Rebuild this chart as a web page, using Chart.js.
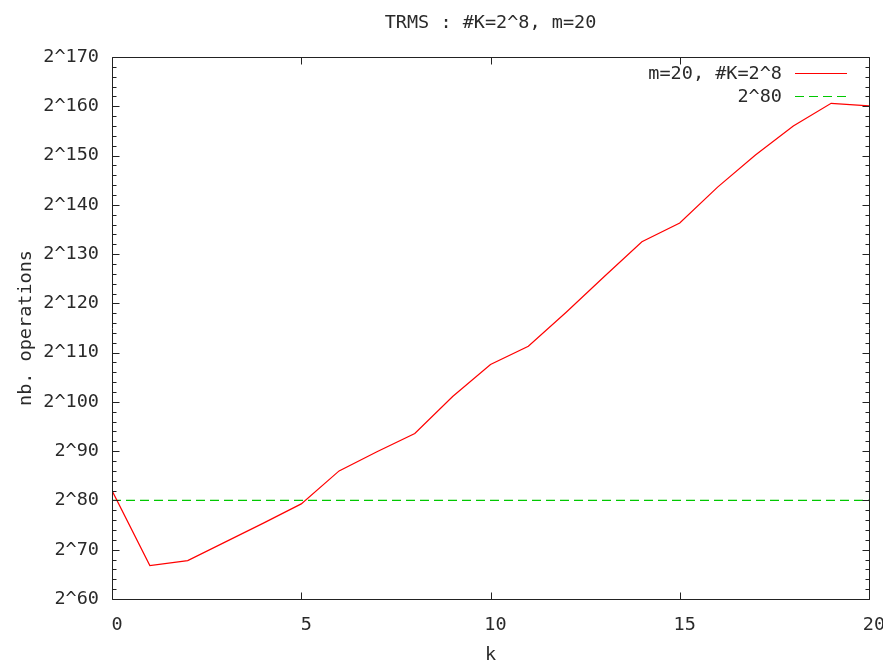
<!DOCTYPE html>
<html>
<head>
<meta charset="utf-8">
<style>
html,body{margin:0;padding:0;background:#fff;}
#wrap{width:883px;height:662px;}
canvas{display:block;}
</style>
<script src="https://cdn.jsdelivr.net/npm/chart.js@4/dist/chart.umd.min.js"></script>
</head>
<body>
<div id="wrap"><canvas id="c" width="883" height="662"></canvas></div>
<script>
// ---- data ----
const kValues = [0,1,2,3,4,5,6,7,8,9,10,11,12,13,14,15,16,17,18,19,20];
const opsLog2 = [82.0,66.8,67.8,71.6,75.4,79.3,86.0,89.9,93.6,101.1,107.6,111.3,118.2,125.4,132.5,136.3,143.6,150.1,156.0,160.6,160.1];
const thresholdK = [0,20];
const thresholdLog2 = [80,80];
const xTickValues = [0,5,10,15,20];
const yTickValues = [60,70,80,90,100,110,120,130,140,150,160,170];
const yMinorStep = 2;
const seriesLabels = ['m=20, #K=2^8','2^80'];
const chartTitle = 'TRMS : #K=2^8, m=20';
const xTitle = 'k';
const yTitle = 'nb. operations';

const FONT = '"DejaVu Sans Mono", monospace';
const TXT = '#2a2a2a';

const framePlugin = {
  id: 'gnuFrame',
  afterDatasetsDraw(chart) {
    const {ctx, chartArea, scales} = chart;
    const x = scales.x, y = scales.y;
    const L = Math.round(chartArea.left) + 0.5, R = Math.round(chartArea.right) + 0.5;
    const T = Math.round(chartArea.top) + 0.5, B = Math.round(chartArea.bottom) + 0.5;
    ctx.save();
    ctx.strokeStyle = '#222';
    ctx.lineWidth = 1;
    ctx.setLineDash([]);
    ctx.beginPath();
    ctx.rect(L, T, R - L, B - T);
    const ymin = yTickValues[0], ymax = yTickValues[yTickValues.length - 1];
    for (let v = ymin; v <= ymax; v += yMinorStep) {
      const py = Math.round(y.getPixelForValue(v)) + 0.5;
      const len = yTickValues.includes(v) ? 7 : 4;
      ctx.moveTo(L, py); ctx.lineTo(L + len, py);
      ctx.moveTo(R, py); ctx.lineTo(R - len, py);
    }
    xTickValues.forEach(v => {
      const px = Math.round(x.getPixelForValue(v)) + 0.5;
      ctx.moveTo(px, B); ctx.lineTo(px, B - 7);
      ctx.moveTo(px, T); ctx.lineTo(px, T + 7);
    });
    ctx.stroke();

    ctx.font = '18.5px ' + FONT;
    ctx.fillStyle = TXT;
    ctx.textBaseline = 'middle';
    // title, centred over the plot area
    ctx.textAlign = 'center';
    ctx.fillText(chartTitle, (chartArea.left + chartArea.right) / 2, 23.5);

    // legend (gnuplot style: text right-aligned, sample on the right)
    ctx.textAlign = 'right';
    chart.data.datasets.forEach((ds, i) => {
      const cy = 74 + i * 23;
      ctx.fillStyle = TXT;
      ctx.fillText(ds.label, 782, cy);
      ctx.strokeStyle = ds.borderColor;
      ctx.lineWidth = ds.borderWidth;
      ctx.setLineDash(ds.borderDash || []);
      ctx.beginPath();
      ctx.moveTo(795, Math.round(cy) - 0.5);
      ctx.lineTo(847, Math.round(cy) - 0.5);
      ctx.stroke();
    });
    ctx.restore();
  }
};

new Chart(document.getElementById('c'), {
  type: 'line',
  data: {
    datasets: [
      {
        label: seriesLabels[0],
        data: kValues.map((k, i) => ({x: k, y: opsLog2[i]})),
        borderColor: '#ff0000',
        borderWidth: 1.2,
        pointRadius: 0,
        tension: 0,
        fill: false
      },
      {
        label: seriesLabels[1],
        data: thresholdK.map((k, i) => ({x: k, y: thresholdLog2[i]})),
        borderColor: '#00c800',
        borderWidth: 1.2,
        borderDash: [9, 5],
        pointRadius: 0,
        tension: 0,
        fill: false
      }
    ]
  },
  options: {
    responsive: false,
    animation: false,
    devicePixelRatio: 1,
    layout: {padding: {left: 0, right: 14, top: 57, bottom: 0}},
    plugins: {
      legend: {display: false},
      tooltip: {enabled: false},
      title: {display: false}
    },
    scales: {
      x: {
        type: 'linear',
        min: 0,
        max: 20,
        afterBuildTicks: s => { s.ticks = xTickValues.map(v => ({value: v})); },
        afterFit: s => { s.height = 63; s.paddingLeft = 0; s.paddingRight = 0; },
        grid: {display: false, drawTicks: false},
        border: {display: false},
        ticks: {
          color: TXT,
          font: {family: FONT, size: 18.5},
          padding: 15,
          labelOffset: 5,
          maxRotation: 0,
          autoSkip: false,
          callback: v => String(v)
        },
        title: {
          display: true,
          text: xTitle,
          color: TXT,
          font: {family: FONT, size: 18.5, lineHeight: 1.2},
          padding: {top: 0, bottom: -4.5}
        }
      },
      y: {
        type: 'linear',
        min: 60,
        max: 170,
        afterBuildTicks: s => { s.ticks = yTickValues.map(v => ({value: v})); },
        afterFit: s => { s.width = 112; s.paddingTop = 0; s.paddingBottom = 0; },
        grid: {display: false, drawTicks: false},
        border: {display: false},
        ticks: {
          color: TXT,
          font: {family: FONT, size: 18.5},
          padding: 13,
          autoSkip: false,
          callback: v => '2^' + v
        },
        title: {
          display: true,
          text: yTitle,
          color: TXT,
          font: {family: FONT, size: 18.5, lineHeight: 1.2},
          padding: {top: 15, bottom: 0}
        }
      }
    }
  },
  plugins: [framePlugin]
});
</script>
</body>
</html>
